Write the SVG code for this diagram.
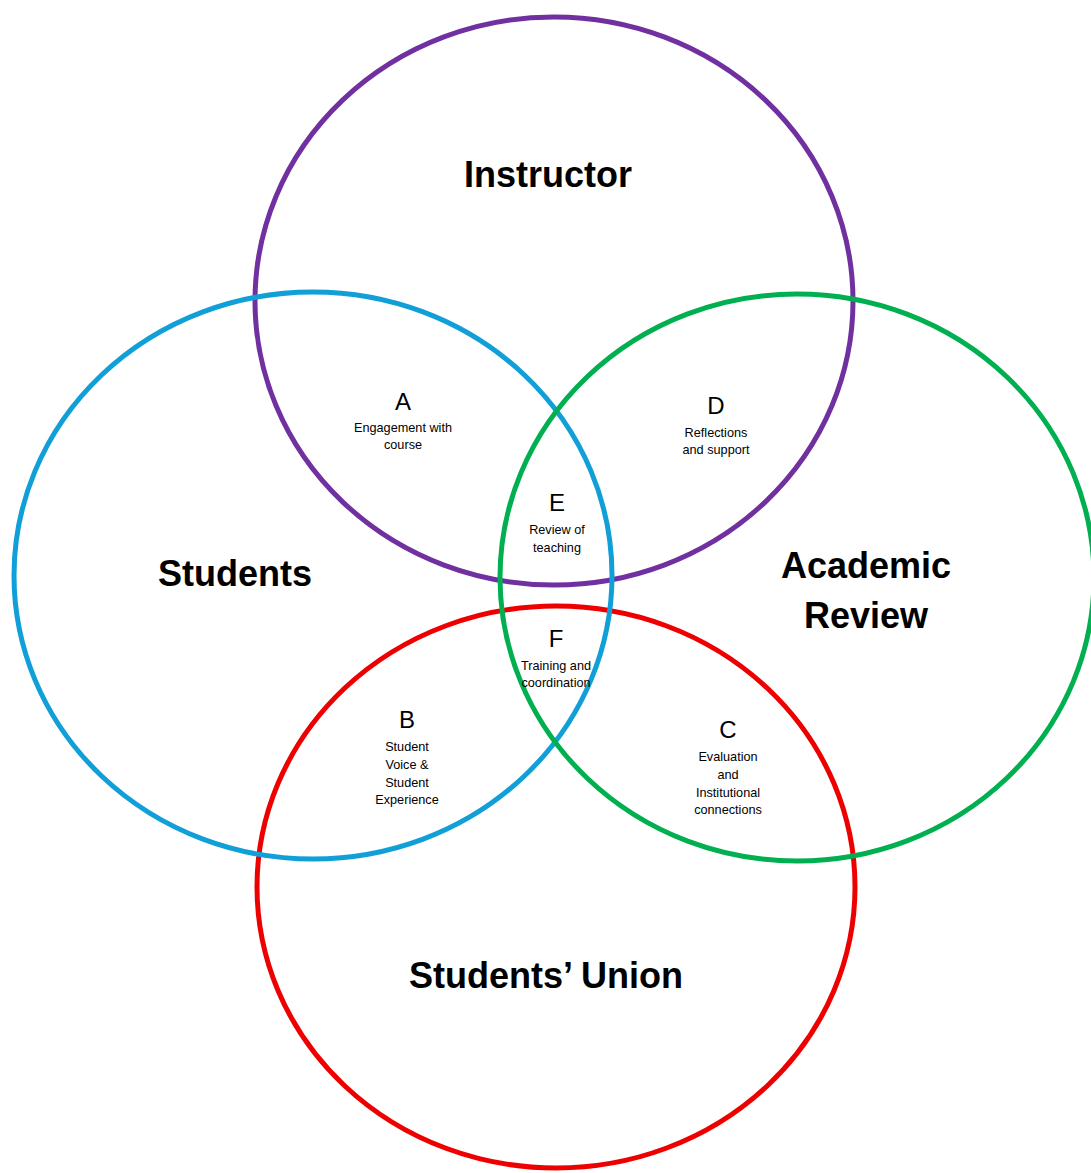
<svg xmlns="http://www.w3.org/2000/svg" width="1091" height="1173" viewBox="0 0 1091 1173">
  <style>
    .ring { fill: none; stroke-width: 5; }
    .title { font-family: "Liberation Sans", Arial, sans-serif; font-weight: bold; font-size: 36px; fill: #000; text-anchor: middle; }
    .letter { font-family: "Liberation Sans", Arial, sans-serif; font-size: 24px; fill: #000; text-anchor: middle; }
    .note { font-family: "Liberation Sans", Arial, sans-serif; font-size: 12.7px; fill: #000; text-anchor: middle; }
  </style>
  <rect width="1091" height="1173" fill="#fff"/>

  <!-- the four overlapping sets -->
  <g id="set-instructor">
    <ellipse class="ring" cx="554" cy="301" rx="299" ry="284" stroke="#7030A0"/>
    <text class="title" x="548" y="187">Instructor</text>
  </g>
  <g id="set-students-union">
    <ellipse class="ring" cx="556" cy="887" rx="299" ry="281" stroke="#EE0000"/>
    <text class="title" x="546" y="988">Students’ Union</text>
  </g>
  <g id="set-students">
    <ellipse class="ring" cx="313" cy="575.5" rx="299" ry="283.5" stroke="#119FD8"/>
    <text class="title" x="235" y="586">Students</text>
  </g>
  <g id="set-academic-review">
    <ellipse class="ring" cx="797" cy="577.5" rx="297" ry="283.5" stroke="#00B050"/>
    <text class="title" x="866" y="578">Academic</text>
    <text class="title" x="866" y="628">Review</text>
  </g>

  <!-- overlap regions -->
  <g id="region-a">
    <text class="letter" x="403" y="410">A</text>
    <text class="note" x="403" y="432">Engagement with</text>
    <text class="note" x="403" y="449">course</text>
  </g>
  <g id="region-d">
    <text class="letter" x="716" y="414">D</text>
    <text class="note" x="716" y="437">Reflections</text>
    <text class="note" x="716" y="454">and support</text>
  </g>
  <g id="region-e">
    <text class="letter" x="557" y="511">E</text>
    <text class="note" x="557" y="534">Review of</text>
    <text class="note" x="557" y="552">teaching</text>
  </g>
  <g id="region-f">
    <text class="letter" x="556" y="647">F</text>
    <text class="note" x="556" y="670">Training and</text>
    <text class="note" x="556" y="687">coordination</text>
  </g>
  <g id="region-b">
    <text class="letter" x="407" y="728">B</text>
    <text class="note" x="407" y="751">Student</text>
    <text class="note" x="407" y="769">Voice &amp;</text>
    <text class="note" x="407" y="787">Student</text>
    <text class="note" x="407" y="804">Experience</text>
  </g>
  <g id="region-c">
    <text class="letter" x="728" y="738">C</text>
    <text class="note" x="728" y="761">Evaluation</text>
    <text class="note" x="728" y="779">and</text>
    <text class="note" x="728" y="797">Institutional</text>
    <text class="note" x="728" y="814">connections</text>
  </g>

  <g id="connectors"></g>
</svg>
